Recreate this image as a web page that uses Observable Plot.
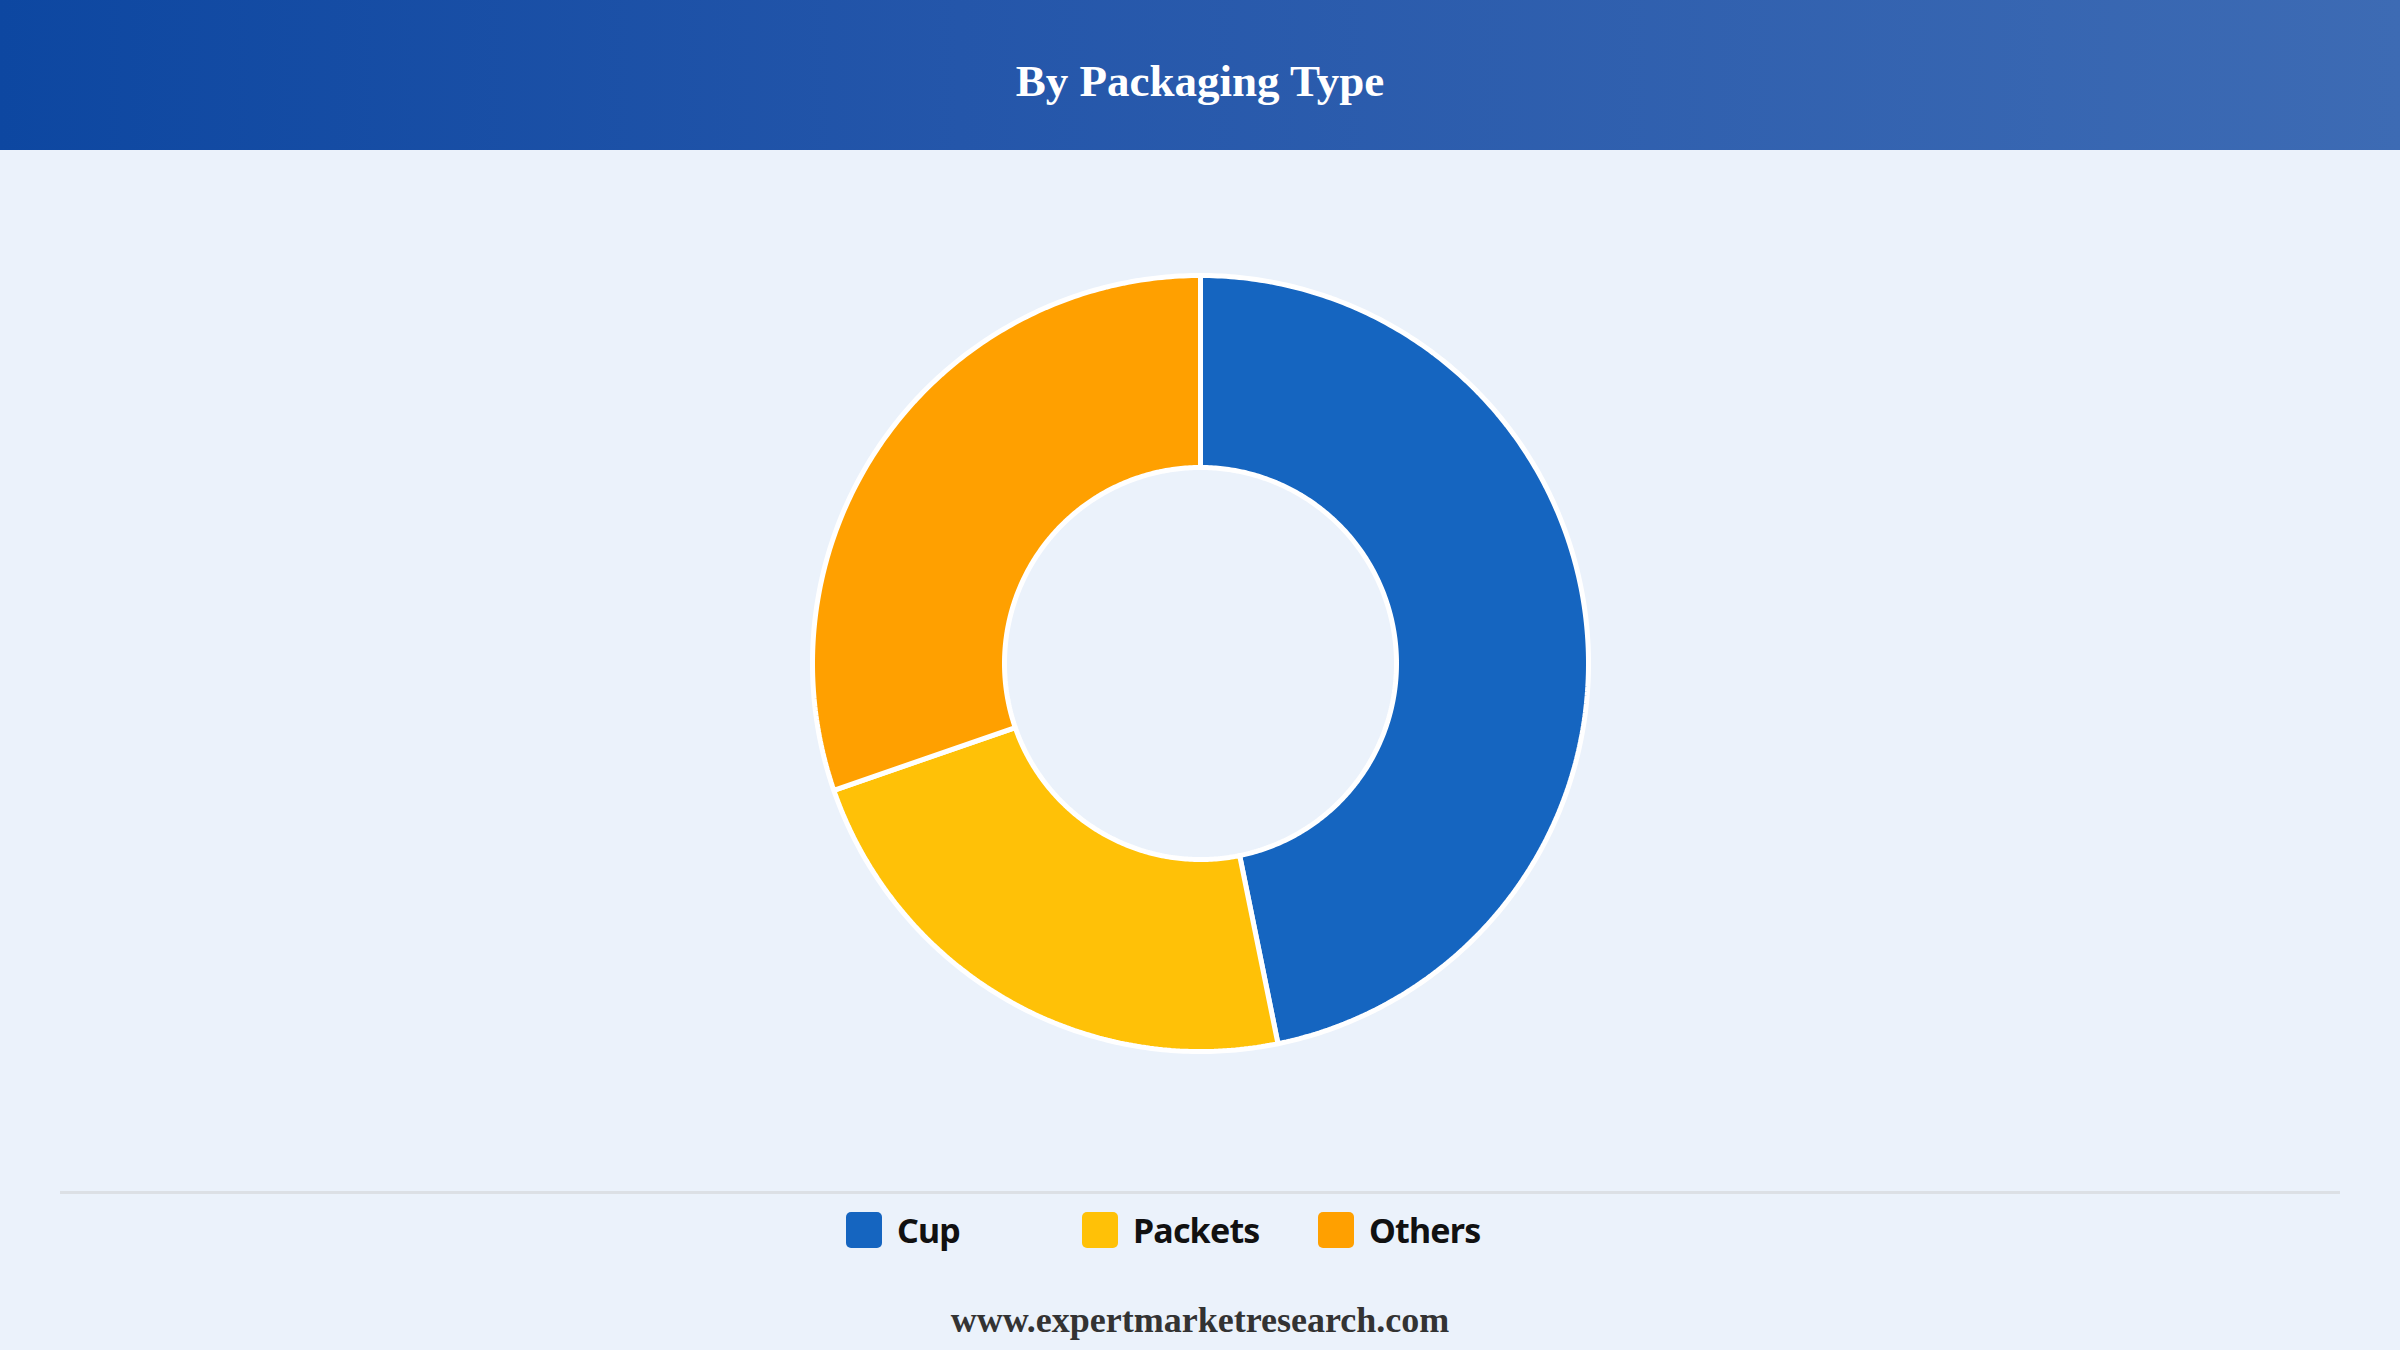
<!DOCTYPE html>
<html>
<head>
<meta charset="utf-8">
<script src="https://cdn.jsdelivr.net/npm/d3@7"></script>
<script src="https://cdn.jsdelivr.net/npm/@observablehq/plot@0.6"></script>
<style>
  html, body { margin: 0; padding: 0; background: #EBF2FB; width: 2400px; height: 1350px; overflow: hidden; }
  #header { height: 150px; background: linear-gradient(90deg, #0D47A1 0%, #2456AA 40%, #3D6BB4 100%); display: flex; align-items: center; justify-content: center; }
  #header h1 { margin: 0; color: #fff; font-family: "Liberation Serif", "Times New Roman", serif; font-weight: bold; font-size: 45px; position: relative; top: 6px; }
  #chart { height: 1026px; }
  #chart svg { display: block; }
  #sep { position: absolute; left: 60px; width: 2280px; top: 1191px; height: 3px; background: #DCE0E5; }
  #legend { position: absolute; top: 1212px; left: 0; width: 2400px; display: flex; justify-content: center; }
  .item { width: 236px; display: flex; align-items: center; height: 36px; }
  .sw { width: 36px; height: 36px; border-radius: 5px; margin-right: 15px; }
  .lab { font-family: "Noto Sans", "Open Sans", sans-serif; font-weight: bold; font-size: 34px; color: #111; line-height: 36px; letter-spacing: -0.8px; }
  #footer { position: absolute; top: 1299px; left: 0; width: 2400px; text-align: center; font-family: "Liberation Serif", "Times New Roman", serif; font-weight: bold; font-size: 36px; color: #333; }
</style>
</head>
<body>
<div id="header"><h1>By Packaging Type</h1></div>
<div id="chart"></div>
<div id="sep"></div>
<div id="legend"></div>
<div id="footer">www.expertmarketresearch.com</div>
<script>
const categories = ["Cup", "Packets", "Others"];
const shares = [46.8, 22.9, 30.3];
const colors = ["#1565C0", "#FFC107", "#FFA000"];

const W = 2400, H = 1026, R = 388, innerRatio = 196 / 388;

const pie = d3.pie().sort(null).value(d => d.value);
const arcs = pie(categories.map((c, i) => ({category: c, value: shares[i]})));

// Build polygon outlines for each slice (in unit-radius coordinates) from pie angles
const pts = [];
for (const a of arcs) {
  const n = Math.max(8, Math.ceil((a.endAngle - a.startAngle) * 90));
  for (let k = 0; k <= n; k++) {
    const t = a.startAngle + (a.endAngle - a.startAngle) * k / n;
    pts.push({category: a.data.category, x: Math.sin(t), y: Math.cos(t)});
  }
  for (let k = n; k >= 0; k--) {
    const t = a.startAngle + (a.endAngle - a.startAngle) * k / n;
    pts.push({category: a.data.category, x: innerRatio * Math.sin(t), y: innerRatio * Math.cos(t)});
  }
}

const plot = Plot.plot({
  width: W,
  height: H,
  margin: 0,
  x: {domain: [-W / 2 / R, W / 2 / R], axis: null},
  y: {domain: [-H / 2 / R, H / 2 / R], axis: null},
  color: {domain: categories, range: colors},
  style: {background: "transparent"},
  marks: [
    Plot.line(pts, {x: "x", y: "y", z: "category", fill: "category", stroke: "white", strokeWidth: 5, curve: "linear-closed", strokeLinejoin: "miter"})
  ]
});
document.getElementById("chart").appendChild(plot);

const legend = document.getElementById("legend");
categories.forEach((c, i) => {
  const item = document.createElement("div");
  item.className = "item";
  item.innerHTML = `<div class="sw" style="background:${colors[i]}"></div><div class="lab">${c}</div>`;
  legend.appendChild(item);
});
</script>
</body>
</html>
